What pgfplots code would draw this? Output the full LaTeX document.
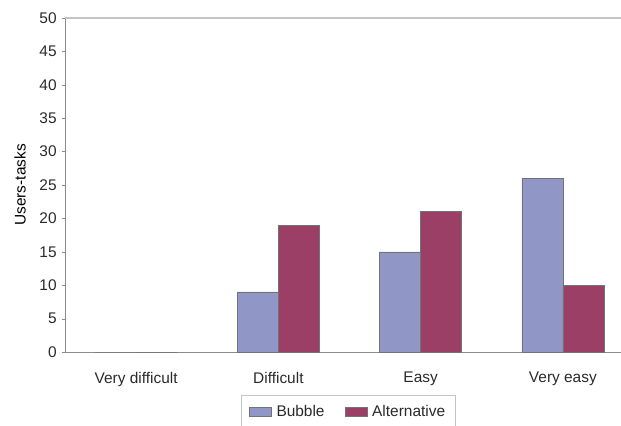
\documentclass[border=0pt]{standalone}
\usepackage{pgfplots}
\pgfplotsset{compat=1.18}
\usepackage{fontspec}
\setmainfont{Liberation Sans}

\definecolor{bubblefill}{HTML}{9096C6}
\definecolor{altfill}{HTML}{9B3F66}
\definecolor{axisgray}{HTML}{8C8C8C}
\definecolor{framegray}{HTML}{C4C4C4}
\definecolor{textgray}{HTML}{2A2A2A}

\pgfplotstableread{
x bubble alternative
0 0  0
1 9  19
2 15 21
3 26 10
}\ratings

\begin{document}
\begin{tikzpicture}[x=1bp,y=1bp]
\fontsize{15.5}{18}\selectfont
\begin{axis}[
  at={(0,0)}, anchor=south west,
  scale only axis,
  width=569bp, height=334bp,
  xmin=-0.5, xmax=3.5,
  ymin=0, ymax=50,
  ytick={0,5,...,50},
  xtick={0,1,2,3},
  xticklabels={Very difficult,Difficult,Easy,Very easy},
  major x tick style={draw=none},
  extra x ticks={0.5,1.5,2.5},
  extra x tick labels={},
  extra x tick style={major tick length=3bp, tick style={draw=axisgray}},
  tick align=outside,
  major tick length=3bp,
  ytick style={draw=axisgray},
  axis x line*=bottom,
  axis y line*=left,
  axis line style={draw=axisgray, line width=0.8bp, -},
  every tick label/.append style={font=\fontsize{15.5}{18}\selectfont, text=textgray},
  /pgf/number format/assume math mode=true,
  yticklabel style={xshift=0bp},
  xticklabel style={yshift=-12bp},
  ylabel={Users-tasks},
  ylabel style={font=\fontsize{15.5}{18}\selectfont, text=textgray},
  every axis y label/.style={at={(rel axis cs:0,0.5)}, xshift=-45bp, rotate=90, anchor=center},
  ybar=0pt,
  bar width=41bp,
  legend columns=2,
  legend style={
    at={(rel axis cs:0.4974,-0.1287)}, anchor=north,
    draw=framegray, line width=0.8bp,
    font=\fontsize{15.5}{18}\selectfont, text=textgray,
    inner xsep=8bp, inner ysep=8bp,
    /tikz/every odd column/.append style={column sep=3bp},
    /tikz/every even column/.append style={column sep=18bp},
  },
  legend image code/.code={\draw[#1, line width=0.6bp] (0bp,-4.5bp) rectangle (22bp,4.5bp);},
]
\addplot[fill=bubblefill, draw=black!55, line width=0.6bp] table[x=x, y=bubble] {\ratings};
\addlegendentry{Bubble}
\addplot[fill=altfill, draw=black!55, line width=0.6bp] table[x=x, y=alternative] {\ratings};
\addlegendentry{Alternative}
% plot area frame along the top edge
\draw[framegray, line width=1.2bp] (rel axis cs:0,1) -- (rel axis cs:1,1);
\end{axis}
\pgfresetboundingbox
\path (-65bp,-74bp) rectangle (556bp,352bp);
\end{tikzpicture}
\end{document}
